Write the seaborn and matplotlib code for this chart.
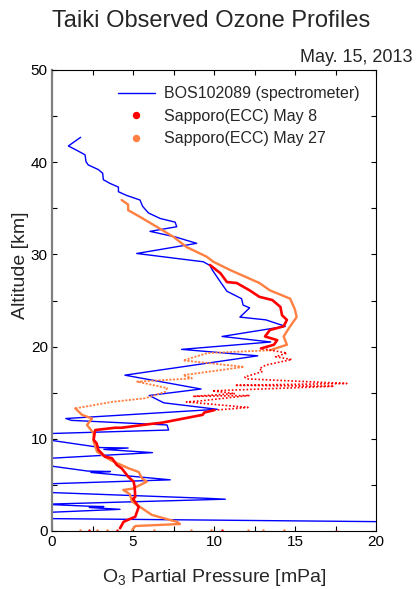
import numpy as np
import pandas as pd
import matplotlib
matplotlib.use("Agg")
import matplotlib.pyplot as plt
from matplotlib.lines import Line2D
from matplotlib.ticker import MultipleLocator
import seaborn as sns

# ---------------- data ----------------
# BOS102089 spectrometer profile (top -> bottom), O3 partial pressure [mPa], altitude [km]
bos_p = [1.77, 1.01, 1.52, 2.04, 2.1, 2.24, 2.86, 3.13, 3.17, 3.58, 4.1, 4.1, 4.6, 5.43, 5.6,
         5.95, 6.67, 7.6, 7.7, 6.05, 7.6, 8.93, 5.23, 9.34,
         9.75, 9.9, 10.4, 10.8, 11.7, 11.8, 12.2, 11.6, 13.2, 14.4, 10.5, 13.5, 8.0, 12.7,
         4.5, 9.2, 6.0, 6.9, 10.2, 0.85, 1.2, 7.1, 7.2, -0.5, -0.5, 3.0, 4.7, 3.2, 6.2,
         -0.5, -0.5, 2.2, 3.6, 2.4, 7.3, -0.5, -0.5, 9.5, 10.7, -0.5, 2.1, 3.2, 2.3, 4.2,
         -0.5, -0.5, 21.0]
bos_alt = [42.7, 41.76, 41.3, 40.8, 40.05, 39.7, 39.2, 38.8, 38.1, 37.7, 37.3, 36.8, 36.4, 35.9,
           35.2, 34.5, 33.9, 33.5, 33.0, 32.5, 31.9, 31.2, 30.1, 29.2,
           28.8, 28.3, 27.0, 26.0, 25.2, 24.5, 24.2, 23.2, 22.9, 22.2, 21.1, 20.5,
           19.7, 19.0, 16.9, 15.4, 14.7, 13.9, 13.2, 12.2, 12.0, 11.5, 10.95, 10.55, 9.95,
           9.05, 9.0, 8.85, 8.5, 7.85, 7.15, 6.5, 6.45, 6.35, 5.55, 5.1, 4.2, 3.55, 3.45,
           2.9, 2.7, 2.65, 2.55, 2.35, 2.0, 1.35, 1.0]

# Sapporo (ECC) May 8 -- lower, streaky middle and upper parts (ground -> top)
may8_low_p = [4.2, 4.42, 5.14, 5.35, 5.0, 5.14, 5.1, 5.04, 4.7, 4.3, 4.0, 3.7, 3.27, 2.86,
              2.76, 2.57, 2.65, 2.67, 3.9, 4.3, 6.05, 6.8, 9.3, 9.4, 10.0]
may8_low_alt = [0.3, 1.0, 1.55, 2.6, 3.5, 3.7, 4.8, 5.35, 5.9, 6.8, 7.16, 7.9, 8.06, 8.8,
                9.5, 9.9, 10.8, 10.95, 11.2, 11.2, 11.6, 11.75, 12.6, 12.85, 13.1]
may8_mid_p = [10.0, 12.1, 10.2, 8.3, 9.1, 12.2, 8.7, 11.3, 9.9, 17.4, 11.3, 18.2, 12.0,
              11.9, 13.0, 12.8, 13.2, 14.8, 13.8, 14.5, 12.9]
may8_mid_alt = [13.1, 13.4, 13.7, 14.0, 14.1, 14.7, 14.6, 14.9, 15.2, 15.7, 15.8, 16.0, 16.5,
                16.7, 17.3, 17.6, 18.0, 18.6, 18.9, 19.3, 19.8]
may8_up_p = [12.9, 13.7, 13.9, 13.15, 13.45, 14.3, 14.5, 14.2, 14.1, 13.6, 12.8, 12.2, 11.4,
             10.8, 10.4, 9.75]
may8_up_alt = [19.8, 20.2, 20.7, 21.1, 21.8, 22.2, 22.9, 23.4, 24.3, 25.05, 25.4, 26.1, 26.9,
               27.0, 27.95, 28.85]

# Sapporo (ECC) May 27 (ground -> top)
may27_low_p = [4.94, 5.15, 7.9, 7.7, 6.17, 5.56, 4.94, 4.8, 4.4, 5.0, 5.45, 5.86, 5.56, 5.35,
               4.73, 3.6, 2.78, 2.57, 2.57, 2.16, 2.47, 1.85, 1.44]
may27_low_alt = [0.1, 0.54, 0.76, 1.0, 1.74, 2.46, 3.2, 4.0, 4.45, 4.6, 5.0, 5.35, 5.7, 6.4,
                 6.8, 7.7, 8.6, 9.7, 10.6, 11.5, 12.2, 12.6, 13.3]
may27_mid_p = [1.44, 3.7, 5.76, 7.0, 7.1, 5.25, 8.64, 8.1, 11.85, 8.1, 9.6, 13.45]
may27_mid_alt = [13.3, 14.0, 14.4, 15.1, 15.5, 16.2, 16.55, 16.9, 17.8, 18.5, 19.3, 19.6]
may27_up_p = [13.45, 14.5, 14.3, 14.7, 15.1, 15.0, 14.7, 13.45, 12.8, 11.0, 9.96, 9.55, 8.3,
              7.5, 6.46, 5.4, 4.7, 4.7, 4.3]
may27_up_alt = [19.6, 20.2, 21.1, 22.2, 23.2, 24.0, 25.2, 26.1, 26.9, 28.3, 29.2, 29.75,
                30.8, 31.9, 33.0, 34.1, 34.8, 35.4, 35.9]

# scattered near-ground points
ground8_p = [2.3, 4.0, 10.5, 17.5]
ground8_alt = [0.1, 0.1, 0.1, 0.05]
ground27_p = [1.7, 2.8, 3.4, 6.3, 8.6, 9.8, 12.1, 13.0, 14.3]
ground27_alt = [0.15, 0.1, 0.15, 0.1, 0.15, 0.1, 0.15, 0.1, 0.15]

title = "Taiki Observed Ozone Profiles"
date_text = "May. 15, 2013"
labels = ["BOS102089 (spectrometer)", "Sapporo(ECC) May 8", "Sapporo(ECC) May 27"]

BLUE = "#0000FF"
RED = "#FF0000"
ORANGE = "#FF8040"

# ---------------- style ----------------
sns.set_style("ticks")
plt.rcParams['font.family'] = ['Liberation Sans', 'DejaVu Sans']
plt.rcParams['mathtext.fontset'] = 'custom'
plt.rcParams['mathtext.rm'] = 'Liberation Sans'
plt.rcParams['mathtext.it'] = 'Liberation Sans:italic'
plt.rcParams['mathtext.default'] = 'regular'

fig = plt.figure(figsize=(4.2, 5.89), dpi=100)
ax = fig.add_axes([52 / 420, 1 - 531 / 589, 324 / 420, 461 / 589])


def draw(px, py, color, lw, ls='-'):
    df = pd.DataFrame({"p": px, "alt": py})
    sns.lineplot(data=df, x="p", y="alt", sort=False, estimator=None, color=color,
                 lw=lw, ls=ls, ax=ax, legend=False)


draw(bos_p, bos_alt, BLUE, 1.0)
draw(may27_low_p, may27_low_alt, ORANGE, 1.7)
draw(may27_mid_p, may27_mid_alt, ORANGE, 1.3, (0, (1.2, 0.8)))
draw(may27_up_p, may27_up_alt, ORANGE, 1.7)
draw(may8_low_p, may8_low_alt, RED, 1.9)
draw(may8_mid_p, may8_mid_alt, RED, 1.2, (0, (1, 1.2)))
draw(may8_up_p, may8_up_alt, RED, 1.9)

sns.scatterplot(x=ground27_p, y=ground27_alt, color=ORANGE, s=3, linewidth=0, ax=ax)
sns.scatterplot(x=ground8_p, y=ground8_alt, color=RED, s=3, linewidth=0, ax=ax)

ax.set_xlim(0, 20)
ax.set_ylim(0, 50)
ax.xaxis.set_major_locator(MultipleLocator(5))
ax.xaxis.set_minor_locator(MultipleLocator(2.5))
ax.yaxis.set_major_locator(MultipleLocator(10))
ax.yaxis.set_minor_locator(MultipleLocator(5))
ax.tick_params(which='both', direction='in', length=3.3, width=0.8, top=True, right=True,
               colors='black')
ax.tick_params(which='major', labelsize=11, pad=3)

for s in ['top', 'right', 'bottom']:
    ax.spines[s].set_color('black')
    ax.spines[s].set_linewidth(0.8)
ax.spines['left'].set_color('#808080')
ax.spines['left'].set_linewidth(1.6)

ax.set_xlabel("O$_3$ Partial Pressure [mPa]", fontsize=14)
ax.set_ylabel("Altitude [km]", fontsize=14)
ax.xaxis.set_label_coords(0.5, -0.078)
ax.yaxis.set_label_coords(-0.071, 0.577)

handles = [Line2D([], [], color=BLUE, lw=1.0),
           Line2D([], [], color=RED, lw=0, marker='o', markersize=4.3),
           Line2D([], [], color=ORANGE, lw=0, marker='o', markersize=4.3)]
ax.legend(handles, labels, loc='upper left', bbox_to_anchor=(0.2037, 0.965),
          frameon=False, fontsize=11.5, borderpad=0, borderaxespad=0,
          handlelength=2.3, handletextpad=0.6, labelspacing=0.48)

fig.text(0.502, 1 - 26.7 / 589, title, ha='center', va='baseline', fontsize=17)
fig.text(413 / 420, 1 - 61.7 / 589, date_text, ha='right', va='baseline', fontsize=13)

fig.savefig("out.png", dpi=100)
